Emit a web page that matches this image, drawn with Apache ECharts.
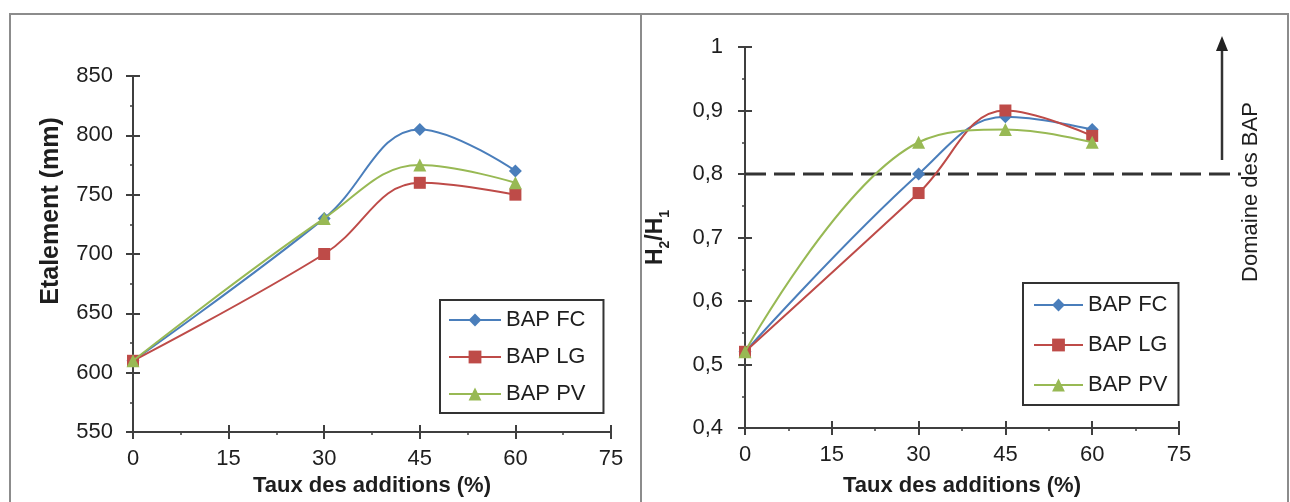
<!DOCTYPE html>
<html>
<head>
<meta charset="utf-8">
<script src="https://cdn.jsdelivr.net/npm/echarts@6/dist/echarts.min.js"></script>
<style>
  html, body { margin: 0; padding: 0; background: #ffffff; }
  #chart { width: 1290px; height: 502px; }
</style>
</head>
<body>
<div id="chart"></div>
<script>
// Addition rate (%) at which each mix was tested
const additions = [0, 30, 45, 60];

// Slump flow (mm)
const etalementFC = [610, 730, 805, 770];
const etalementLG = [610, 700, 760, 750];
const etalementPV = [610, 730, 775, 760];

// L-box ratio H2/H1
const ratioFC = [0.52, 0.80, 0.89, 0.87];
const ratioLG = [0.52, 0.77, 0.90, 0.86];
const ratioPV = [0.52, 0.85, 0.87, 0.85];

// Lower limit of the self-compacting concrete domain for H2/H1
const ratioThreshold = 0.8;

const seriesNames = ['BAP FC', 'BAP LG', 'BAP PV'];

// Axis ticks
const additionTicks = [0, 15, 30, 45, 60, 75];
const etalementTicks = [550, 600, 650, 700, 750, 800, 850];
const ratioTicks = [0.4, 0.5, 0.6, 0.7, 0.8, 0.9, 1];

const FONT = '"Liberation Sans", Arial, Helvetica, sans-serif';
const AXIS_COLOR = '#3f3f3f';
const TEXT_COLOR = '#1e1e1e';
const colors = ['#4a7ebb', '#be4b48', '#98b954'];
const symbols = ['diamond', 'rect', 'triangle'];
const symbolSizes = [13, 12, 13];

const chart = echarts.init(document.getElementById('chart'), null, { renderer: 'canvas' });

function pairs(values) {
  return additions.map((x, i) => [x, values[i]]);
}

function commaFormat(v) {
  return String(Number(v.toFixed(2))).replace('.', ',');
}

// Main axis: line, outward ticks, minor ticks and labels
function mainAxis(ticks, gridIndex, position, labelMargin, extra) {
  return Object.assign({
    type: 'value',
    gridIndex: gridIndex,
    position: position,
    min: ticks[0],
    max: ticks[ticks.length - 1],
    interval: ticks[1] - ticks[0],
    axisLine: { show: true, onZero: false, lineStyle: { color: AXIS_COLOR, width: 2 } },
    axisTick: { show: true, inside: false, length: 7, lineStyle: { color: AXIS_COLOR, width: 2 } },
    minorTick: { show: true, splitNumber: 2, length: 3, lineStyle: { color: AXIS_COLOR, width: 1.5 } },
    splitLine: { show: false },
    axisLabel: { fontSize: 22, color: TEXT_COLOR, fontFamily: FONT, margin: labelMargin }
  }, extra || {});
}

// Companion axis drawing the inner half of each major tick, so ticks cross the axis line
function innerTickAxis(ticks, gridIndex, position) {
  return {
    type: 'value',
    gridIndex: gridIndex,
    position: position,
    min: ticks[0],
    max: ticks[ticks.length - 1],
    interval: ticks[1] - ticks[0],
    axisLine: { show: false, onZero: false },
    axisTick: { show: true, inside: true, length: 7, lineStyle: { color: AXIS_COLOR, width: 2 } },
    axisLabel: { show: false },
    splitLine: { show: false }
  };
}

const axisNameStyle = { fontSize: 22, fontWeight: 'bold', color: TEXT_COLOR, fontFamily: FONT };

function lineSeries(name, i, values, axisIndex) {
  return {
    name: name,
    type: 'line',
    xAxisIndex: axisIndex,
    yAxisIndex: axisIndex,
    data: pairs(values),
    smooth: 0.4,
    symbol: symbols[i],
    symbolSize: symbolSizes[i],
    showAllSymbol: true,
    lineStyle: { color: colors[i], width: 2 },
    itemStyle: { color: colors[i] },
    emphasis: { disabled: true },
    z: 3 + i
  };
}

function legendBlock(left, top, padding, itemGap, itemWidth) {
  return {
    data: seriesNames,
    orient: 'vertical',
    left: left,
    top: top,
    padding: padding,
    itemGap: itemGap,
    itemWidth: itemWidth,
    itemHeight: 16,
    borderColor: '#333333',
    borderWidth: 2,
    borderRadius: 0,
    backgroundColor: '#ffffff',
    selectedMode: false,
    textStyle: { fontSize: 22, color: TEXT_COLOR, fontFamily: FONT, lineHeight: 24 }
  };
}

const option = {
  animation: false,
  backgroundColor: '#ffffff',
  textStyle: { fontFamily: FONT },
  grid: [
    { left: 133, top: 76, width: 478, height: 356, containLabel: false },
    { left: 745, top: 47, width: 434, height: 381, containLabel: false }
  ],
  legend: [
    legendBlock(440, 300, [8, 18, 7, 8], 13, 52),
    legendBlock(1023, 283, [10, 11, 8, 10], 16, 49)
  ],
  xAxis: [
    mainAxis(additionTicks, 0, 'bottom', 16, {
      name: 'Taux des additions (%)', nameLocation: 'middle', nameGap: 42, nameTextStyle: axisNameStyle
    }),
    mainAxis(additionTicks, 1, 'bottom', 16, {
      name: 'Taux des additions (%)', nameLocation: 'middle', nameGap: 47, nameTextStyle: axisNameStyle
    }),
    innerTickAxis(additionTicks, 0, 'bottom'),
    innerTickAxis(additionTicks, 1, 'bottom')
  ],
  yAxis: [
    mainAxis(etalementTicks, 0, 'left', 20, {
      name: 'Etalement (mm)', nameLocation: 'middle', nameGap: 69, nameRotate: 90,
      nameTextStyle: Object.assign({}, axisNameStyle, { fontSize: 25, padding: [0, 0, 0, 86] })
    }),
    mainAxis(ratioTicks, 1, 'left', 22, {
      name: '{h|H}{s|2}{h|/H}{s|1}', nameLocation: 'middle', nameGap: 73, nameRotate: 90,
      axisLabel: { fontSize: 22, color: TEXT_COLOR, fontFamily: FONT, margin: 22, formatter: commaFormat },
      nameTextStyle: {
        color: TEXT_COLOR,
        fontFamily: FONT,
        rich: {
          h: { fontSize: 23, fontWeight: 'bold', color: TEXT_COLOR, fontFamily: FONT, verticalAlign: 'bottom', padding: [0, 0, 5, 0] },
          s: { fontSize: 14, fontWeight: 'bold', color: TEXT_COLOR, fontFamily: FONT, verticalAlign: 'bottom' }
        }
      }
    }),
    innerTickAxis(etalementTicks, 0, 'left'),
    innerTickAxis(ratioTicks, 1, 'left')
  ],
  series: [
    lineSeries(seriesNames[0], 0, etalementFC, 0),
    lineSeries(seriesNames[1], 1, etalementLG, 0),
    lineSeries(seriesNames[2], 2, etalementPV, 0),
    lineSeries(seriesNames[0], 0, ratioFC, 1),
    lineSeries(seriesNames[1], 1, ratioLG, 1),
    lineSeries(seriesNames[2], 2, ratioPV, 1)
  ]
};

chart.setOption(option);

// Threshold line and annotations placed through the right-hand grid's scales
const thresholdStart = chart.convertToPixel({ gridIndex: 1 }, [additionTicks[0], ratioThreshold]);
const thresholdY = thresholdStart[1];

chart.setOption({
  graphic: {
    elements: [
      // panel frame and divider
      {
        type: 'rect', silent: true, z: 0,
        shape: { x: 10, y: 14, width: 1278, height: 500 },
        style: { fill: 'none', stroke: '#8c8c8c', lineWidth: 2 }
      },
      {
        type: 'line', silent: true, z: 0,
        shape: { x1: 641, y1: 14, x2: 641, y2: 502 },
        style: { stroke: '#8c8c8c', lineWidth: 2 }
      },
      // H2/H1 = 0.8 limit
      {
        type: 'line', silent: true, z: 1,
        shape: { x1: thresholdStart[0], y1: thresholdY, x2: 1241, y2: thresholdY },
        style: { stroke: '#333333', lineWidth: 3, lineDash: [21, 8] }
      },
      // arrow pointing into the domain
      {
        type: 'line', silent: true, z: 1,
        shape: { x1: 1222, y1: thresholdY - 14, x2: 1222, y2: 48 },
        style: { stroke: '#333333', lineWidth: 2.5 }
      },
      {
        type: 'polygon', silent: true, z: 1,
        shape: { points: [[1222, 36], [1216, 51], [1228, 51]] },
        style: { fill: '#222222' }
      },
      {
        type: 'text', silent: true, z: 1,
        x: 1251, y: 192, rotation: Math.PI / 2,
        style: {
          text: 'Domaine des BAP',
          fontSize: 22, fontFamily: FONT, fill: TEXT_COLOR,
          align: 'center', verticalAlign: 'middle'
        }
      }
    ]
  }
});
</script>
</body>
</html>
